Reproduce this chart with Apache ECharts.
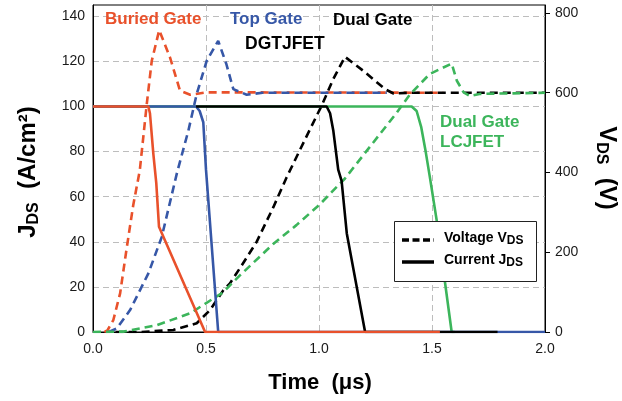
<!DOCTYPE html>
<html><head><meta charset="utf-8">
<script src="https://cdn.jsdelivr.net/npm/echarts@6/dist/echarts.min.js"></script>
<style>html,body{margin:0;padding:0;background:#fff}#c{width:622px;height:401px}</style>
</head><body><div id="c"></div>
<script>
// time in µs, current in A/cm², voltage in V
const buriedGateCurrent = [[0,100],[0.245,100],[0.252,97],[0.267,79],[0.28,66],[0.292,46.7],[0.496,0],[1.535,0]];
const buriedGateVoltage = [[0.05,0],[0.065,5],[0.09,30],[0.12,97],[0.149,210],[0.178,318],[0.207,405],[0.238,572],[0.26,680],[0.293,757],[0.341,688],[0.385,605],[0.43,595],[0.503,601],[1.55,600]];
const topGateCurrent = [[0,100],[0.456,100],[0.472,98],[0.488,93],[0.5,72],[0.554,0],[2.0,0]];
const topGateVoltage = [[0.07,0],[0.105,9],[0.164,55],[0.245,147],[0.304,238],[0.372,400],[0.422,505],[0.459,597],[0.503,680],[0.554,730],[0.59,672],[0.621,609],[0.68,595],[0.75,600],[1.3,600]];
const dgtjfetCurrent = [[0.456,100],[1.034,100],[1.049,97],[1.063,89.5],[1.085,72],[1.1,67],[1.123,43.7],[1.204,0],[1.79,0]];
const dgtjfetVoltage = [[0.1,0],[0.21,0],[0.355,5],[0.459,22],[0.518,55],[0.577,105],[0.606,122],[0.65,160],[0.724,226],[0.798,313],[0.857,388],[0.94,485],[1.012,568],[1.063,634],[1.115,690],[1.196,655],[1.292,609],[1.33,598],[1.4,600],[2.0,600]];
const lcjfetCurrent = [[0,100],[1.41,100],[1.432,98],[1.452,91],[1.472,80],[1.49,69],[1.52,50],[1.587,0],[1.6,0]];
const lcjfetVoltage = [[0,0],[0.134,1],[0.282,17],[0.43,47],[0.577,100],[0.606,117],[0.65,142],[0.8,222],[0.9,268],[1.0,318],[1.115,385],[1.226,465],[1.344,550],[1.403,596],[1.49,647],[1.587,673],[1.61,630],[1.64,601],[1.668,592],[1.71,597],[2.0,600]];
const leftTicks = [0,20,40,60,80,100,120,140];
const rightTicks = [0,200,400,600,800];
const xTicks = [0,0.5,1.0,1.5,2.0];

const RED='#E9512B', BLUE='#3657A7', GREEN='#3CB55B', BLACK='#000';
const FONT='Liberation Sans, Arial, sans-serif';
const DASH=[8,5];
function ln(name,data,color,dashed,z,yi){
  return {name,type:'line',data,yAxisIndex:yi,symbol:'none',z,silent:true,
    lineStyle:{color,width:2.6,type:dashed?DASH:'solid',cap:'butt'}};
}
const chart = echarts.init(document.getElementById('c'));
const labelStyle = {color:'#1a1a1a',fontSize:14,fontFamily:FONT};
chart.setOption({
  animation:false,
  grid:{left:93,right:77,top:5,bottom:69,show:true,borderColor:'#000',borderWidth:1},
  xAxis:{type:'value',min:0,max:2,interval:0.5,
    axisLine:{lineStyle:{color:'#000',width:1}},axisTick:{show:false},
    axisLabel:Object.assign({margin:10,formatter:v=>xTicks.includes(v)?v.toFixed(1):''},labelStyle),
    splitLine:{show:true,showMinLine:false,showMaxLine:false,lineStyle:{color:'#bdbdbd',type:[6,4],width:1}}},
  yAxis:[
    {type:'value',min:0,max:145,interval:20,position:'left',
     axisLine:{show:true,lineStyle:{color:'#000',width:1}},axisTick:{show:false},
     axisLabel:Object.assign({margin:8,formatter:v=>leftTicks.includes(v)?String(v):''},labelStyle),
     splitLine:{show:true,showMinLine:false,showMaxLine:false,lineStyle:{color:'#bdbdbd',type:[6,4],width:1}}},
    {type:'value',min:0,max:820,interval:200,position:'right',
     axisLine:{show:true,lineStyle:{color:'#000',width:1}},
     axisTick:{show:true,inside:false,length:5,customValues:rightTicks,lineStyle:{color:'#000'}},
     axisLabel:Object.assign({margin:10,customValues:rightTicks,formatter:v=>String(v)},labelStyle),
     splitLine:{show:false}}
  ],
  series:[
    ln('LCJFET V',lcjfetVoltage,GREEN,true,5,1),
    ln('DGTJFET V',dgtjfetVoltage,BLACK,true,4,1),
    ln('Top V',topGateVoltage,BLUE,true,3,1),
    ln('Buried V',buriedGateVoltage,RED,true,2,1),
    ln('LCJFET J',lcjfetCurrent,GREEN,false,10,0),
    ln('DGTJFET J',dgtjfetCurrent,BLACK,false,12,0),
    ln('Top J',topGateCurrent,BLUE,false,11,0),
    ln('Buried J',buriedGateCurrent,RED,false,13,0)
  ],
  graphic:[
    {type:'text',x:105,y:19.5,z:50,style:{text:'Buried Gate',fill:RED,font:'bold 17px '+FONT,textVerticalAlign:'middle'}},
    {type:'text',x:230,y:19.5,z:50,style:{text:'Top Gate',fill:BLUE,font:'bold 17px '+FONT,textVerticalAlign:'middle'}},
    {type:'text',x:333,y:20,z:50,style:{text:'Dual Gate',fill:BLACK,font:'bold 17px '+FONT,textVerticalAlign:'middle'}},
    {type:'text',x:245,y:44.5,z:50,style:{text:'DGTJFET',fill:BLACK,font:'bold 17.5px '+FONT,textVerticalAlign:'middle'}},
    {type:'text',x:440,y:122,z:50,style:{text:'Dual Gate',fill:GREEN,font:'bold 17px '+FONT,textVerticalAlign:'middle'}},
    {type:'text',x:440,y:142,z:50,style:{text:'LCJFET',fill:GREEN,font:'bold 17px '+FONT,textVerticalAlign:'middle'}},
    // legend
    {type:'rect',z:50,shape:{x:394.5,y:221.5,width:142,height:60},style:{fill:'#fff',stroke:'#222',lineWidth:1}},
    {type:'line',z:51,shape:{x1:402,y1:240,x2:434,y2:240},style:{stroke:'#000',lineWidth:3.5,lineDash:[7,3.5]}},
    {type:'line',z:51,shape:{x1:402,y1:262,x2:434,y2:262},style:{stroke:'#000',lineWidth:3.5}},
    {type:'text',x:444,y:238,z:51,style:{text:'{m|Voltage V}{s|DS}',textVerticalAlign:'middle',
      rich:{m:{font:'bold 14px '+FONT,fill:'#000',lineHeight:18},s:{font:'bold 12px '+FONT,fill:'#000',lineHeight:10,verticalAlign:'bottom'}}}},
    {type:'text',x:444,y:260,z:51,style:{text:'{m|Current J}{s|DS}',textVerticalAlign:'middle',
      rich:{m:{font:'bold 14px '+FONT,fill:'#000',lineHeight:18},s:{font:'bold 12px '+FONT,fill:'#000',lineHeight:10,verticalAlign:'bottom'}}}},
    // axis titles
    {type:'text',x:28,y:172,rotation:Math.PI/2,z:50,style:{text:'{b|J}{s|DS}{b|  (A/cm²)}',textAlign:'center',textVerticalAlign:'middle',
      rich:{b:{font:'bold 24px '+FONT,fill:'#000',lineHeight:28},s:{font:'bold 16px '+FONT,fill:'#000',lineHeight:15,verticalAlign:'bottom'}}}},
    {type:'text',x:607,y:168,rotation:-Math.PI/2,z:50,style:{text:'{b|V}{s|DS}{b|  (V)}',textAlign:'center',textVerticalAlign:'middle',
      rich:{b:{font:'bold 24px '+FONT,fill:'#000',lineHeight:28},s:{font:'bold 16px '+FONT,fill:'#000',lineHeight:15,verticalAlign:'bottom'}}}},
    {type:'text',x:320,y:383,z:50,style:{text:'Time  (μs)',textAlign:'center',textVerticalAlign:'middle',font:'bold 22px '+FONT,fill:'#000'}}
  ]
});
</script></body></html>
